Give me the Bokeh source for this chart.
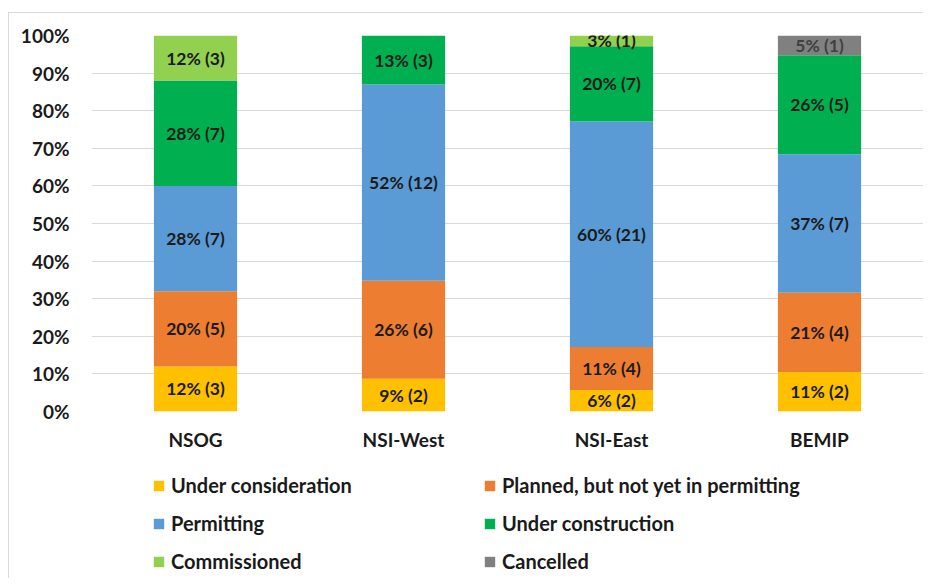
from bokeh.plotting import figure
from bokeh.layouts import column
from bokeh.models import ColumnDataSource, Legend, LegendItem, FixedTicker, NumeralTickFormatter, FactorRange, Range1d
from bokeh.embed import file_html
from bokeh.resources import INLINE
from bokeh.core.properties import value

categories = ["NSOG", "NSI-West", "NSI-East", "BEMIP"]
series = ["Under consideration", "Planned, but not yet in permitting", "Permitting",
          "Under construction", "Commissioned", "Cancelled"]
under_consideration = [3, 2, 2, 2]
planned = [5, 6, 4, 4]
permitting = [7, 12, 21, 7]
under_construction = [7, 3, 7, 5]
commissioned = [3, 0, 1, 0]
cancelled = [0, 0, 0, 1]
y_ticks = [0, 0.1, 0.2, 0.3, 0.4, 0.5, 0.6, 0.7, 0.8, 0.9, 1.0]

colors = ["#FFC000", "#ED7D31", "#5B9BD5", "#00B050", "#92D050", "#808080"]
label_colors = ["#1a1a1a", "#1a1a1a", "#1a1a1a", "#1a1a1a", "#1a1a1a", "#404040"]
FONT = "Lato"

counts = [under_consideration, planned, permitting, under_construction, commissioned, cancelled]
totals = [sum(c[i] for c in counts) for i in range(len(categories))]
keys = ["s%d" % k for k in range(len(series))]
data = {"cat": categories}
for k, c in zip(keys, counts):
    data[k] = [c[i] / totals[i] for i in range(len(categories))]
source = ColumnDataSource(data)

p = figure(x_range=FactorRange(*categories), y_range=Range1d(0, 1),
           width=914, height=446, output_backend="svg", toolbar_location=None,
           min_border_left=82, min_border_right=0, min_border_top=22, min_border_bottom=48)
p.outline_line_color = None
p.background_fill_color = "white"
p.border_fill_color = "white"

renderers = p.vbar_stack(keys, x="cat", width=0.4, source=source, color=colors, line_color=None)

# labels
lx, ly, lt, lc = [], [], [], []
for k, c in enumerate(counts):
    for i, cat in enumerate(categories):
        if c[i] == 0:
            continue
        bottom = sum(counts[j][i] for j in range(k)) / totals[i]
        top = bottom + c[i] / totals[i]
        pct = int(c[i] / totals[i] * 100 + 0.5)
        lx.append(cat)
        ly.append((bottom + top) / 2)
        lt.append("%d%% (%d)" % (pct, c[i]))
        lc.append(label_colors[k])
lsrc = ColumnDataSource(dict(x=lx, y=ly, text=lt, color=lc))
p.text(x="x", y="y", text="text", source=lsrc, text_align="center", text_baseline="middle",
       text_font=value(FONT), text_font_style="bold", text_font_size="17.5px", text_color="color")

p.xgrid.grid_line_color = None
p.ygrid.grid_line_color = "#d9d9d9"
p.ygrid.grid_line_width = 1
p.yaxis.ticker = FixedTicker(ticks=y_ticks)
p.yaxis.formatter = NumeralTickFormatter(format="0%")
for ax in (p.xaxis[0], p.yaxis[0]):
    ax.axis_line_color = None
    ax.major_tick_line_color = None
    ax.minor_tick_line_color = None
    ax.major_tick_out = 0
    ax.minor_tick_out = 0
    ax.major_label_text_font = FONT
    ax.major_label_text_font_style = "bold"
    ax.major_label_text_font_size = "19px"
    ax.major_label_text_color = "#1a1a1a"
p.yaxis[0].major_label_standoff = 22
p.xaxis[0].major_label_standoff = 16

# legend figure
p2 = figure(width=914, height=119, output_backend="svg", toolbar_location=None,
            x_range=Range1d(0, 1), y_range=Range1d(0, 1),
            x_axis_location=None, y_axis_location=None,
            min_border_left=0, min_border_right=0, min_border_top=0, min_border_bottom=0)
p2.grid.grid_line_color = None
p2.outline_line_color = None
p2.border_fill_color = "white"
dummies = []
for c in colors:
    r = p2.vbar(x=[0], top=[0], width=0, color=c, line_color=None)
    r.visible = False
    dummies.append(r)
items = [LegendItem(label=s, renderers=[r]) for s, r in zip(series, dummies)]
legend = Legend(items=items, orientation="horizontal", ncols=2, location=(61, 4),
                label_text_font=FONT, label_text_font_style="bold", label_text_font_size="20px",
                label_text_color="#1a1a1a", glyph_width=13, glyph_height=13, label_standoff=6,
                label_width=300, label_height=26, spacing=12, padding=0, margin=0,
                border_line_color=None, background_fill_alpha=0)
p2.add_layout(legend, "center")

layout = column(p, p2, spacing=0, margin=(12, 0, 0, 8))
layout.styles = {"border-top": "1px solid #d9d9d9", "border-left": "1px solid #d9d9d9"}

open("out.html", "w").write(file_html(layout, INLINE))
